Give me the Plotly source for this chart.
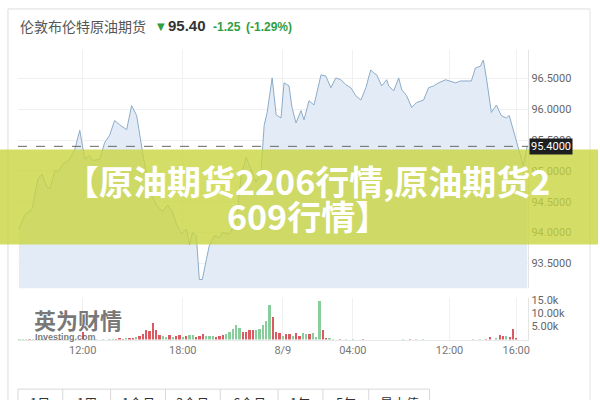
import plotly.graph_objects as go

# ---------------- data ----------------
# session hours (12 = 12:00 day 1, 24 = 8/9 00:00, 28 = 04:00, 34 = 12:00 day 2, 38 = 16:00)
price_t = [8.17, 8.53, 8.95, 9.01, 9.31, 9.55, 9.85, 10.03, 10.33, 10.51, 10.80, 11.22, 11.52, 11.82,
           12.12, 12.36, 12.60, 13.02, 13.31, 13.61, 13.91, 14.21, 14.63, 14.93, 15.23, 15.41, 15.59,
           15.83, 16.12, 16.42, 16.78, 17.08, 17.38, 17.62, 17.92, 18.22, 18.40, 18.58, 18.81, 18.99,
           19.17, 19.41, 19.59, 19.89, 20.19, 20.37, 20.79, 21.21, 21.50, 21.80, 22.10, 22.40, 22.70,
           22.88, 23.06, 23.36, 23.60, 23.89, 24.07, 24.37, 24.55, 24.79, 25.09, 25.27, 25.57, 25.87,
           26.29, 26.58, 26.88, 27.18, 27.48, 27.78, 28.08, 28.38, 28.68, 28.98, 29.27, 29.45, 29.63,
           29.93, 30.23, 30.35, 30.65, 30.95, 31.13, 31.43, 31.73, 32.02, 32.44, 32.74, 33.04, 33.34,
           33.76, 34.06, 34.36, 34.65, 35.01, 35.31, 35.55, 35.85, 36.03, 36.21, 36.51, 36.81, 37.10,
           37.40, 37.58, 37.82, 38.12, 38.42, 38.66]
price_v = [94.06, 94.29, 94.38, 94.45, 94.87, 94.95, 94.74, 94.71, 95.01, 94.98, 95.11, 95.19, 95.35, 95.66,
           95.19, 95.25, 95.17, 95.19, 95.46, 95.58, 95.82, 95.75, 95.67, 96.06, 95.90, 95.58, 95.30,
           94.93, 94.61, 94.45, 94.34, 94.45, 94.34, 94.14, 93.98, 94.06, 93.80, 94.00, 93.95, 93.24,
           93.24, 93.56, 93.79, 93.95, 93.92, 94.00, 93.98, 94.18, 94.93, 95.22, 95.03, 94.82, 95.03,
           95.74, 95.95, 96.51, 95.91, 95.86, 96.43, 96.38, 96.03, 95.78, 95.98, 95.83, 96.14, 96.07,
           96.56, 96.54, 96.35, 96.51, 96.48, 96.40, 96.35, 96.22, 96.15, 96.35, 96.64, 96.59, 96.56,
           96.38, 96.48, 96.38, 96.30, 96.51, 96.32, 96.22, 96.03, 96.11, 96.15, 96.35, 96.38, 96.43,
           96.48, 96.46, 96.43, 96.46, 96.46, 96.46, 96.67, 96.70, 96.80, 96.51, 95.95, 96.07, 95.90,
           95.86, 95.90, 95.66, 95.38, 95.09, 95.40]

vol_t = [8.2, 8.4, 8.6, 8.8, 9.0, 9.2, 9.4, 9.6, 9.8, 10.2, 10.6, 11.0, 11.4, 12.0, 12.4, 12.8, 13.2, 13.6,
         13.8, 14.0, 14.2, 14.4, 14.6, 14.8, 15.0, 15.2, 15.4, 15.6, 15.8, 16.0, 16.2, 16.4, 16.6, 16.8,
         17.0, 17.2, 17.4, 17.6, 17.8, 18.0, 18.2, 18.4, 18.6, 18.8, 19.0, 19.2, 19.4, 19.6, 19.8, 20.0,
         20.2, 20.4, 20.6, 20.8, 21.0, 21.2, 21.4, 21.6, 21.8, 22.0, 22.2, 22.4, 22.6, 22.8, 23.0, 23.2,
         23.4, 23.6, 23.8, 24.0, 24.2, 24.4, 24.6, 24.8, 25.0, 25.2, 25.4, 25.6, 25.8, 26.0, 26.2, 26.4,
         26.6, 26.8, 27.0, 27.4, 27.8, 28.2, 28.8, 31.2, 31.6, 32.0, 32.4, 35.4, 35.8, 36.2, 36.4, 36.8,
         37.0, 37.2, 37.4, 37.6, 37.8, 38.0]
vol_k = [0.3, 0.2, 0.3, 0.2, 0.3, 0.2, 0.3, 0.2, 0.2, 0.3, 0.2, 0.3, 0.2, 3.0, 0.3, 0.2, 0.3, 0.2,
         0.4, 0.3, 0.5, 0.3, 0.5, 0.6, 0.5, 1.0, 1.5, 2.2, 3.5, 3.2, 6.4, 3.5, 1.9, 1.3,
         1.0, 1.7, 1.0, 1.3, 1.9, 1.0, 1.3, 1.9, 1.6, 1.0, 1.4, 2.2, 1.2, 1.5, 1.3, 1.0,
         1.4, 1.8, 2.2, 3.0, 4.0, 5.5, 4.5, 3.0, 3.0, 3.5, 3.5, 3.5, 4.0, 5.5, 7.0, 13.5,
         8.5, 3.0, 2.5, 1.5, 2.0, 2.2, 1.5, 2.5, 1.2, 2.5, 2.0, 2.0, 2.5, 1.0, 15.0, 3.5,
         0.8, 0.5, 0.3, 0.2, 0.2, 0.2, 0.2, 0.3, 0.2, 0.3, 0.2, 0.2, 0.3, 0.3, 1.0, 0.8,
         1.7, 1.3, 1.3, 1.0, 4.2, 0.7]
vol_dir = ["u", "u", "u", "d", "u", "u", "u", "d", "u", "u", "d", "u", "u", "d", "u", "u", "u", "u",
           "u", "d", "d", "d", "u", "d", "d", "u", "d", "d", "d", "d", "d", "d", "d", "u",
           "u", "d", "u", "d", "d", "u", "d", "u", "u", "d", "d", "d", "u", "u", "u", "d",
           "d", "d", "u", "u", "u", "u", "u", "d", "d", "d", "d", "u", "u", "u", "u", "u",
           "d", "d", "d", "u", "d", "d", "u", "d", "d", "u", "u", "d", "u", "u", "u", "d",
           "d", "u", "u", "d", "u", "u", "d", "u", "d", "u", "u", "u", "u", "d", "d", "u",
           "d", "d", "u", "d", "d", "d"]

x_tickvals = [12, 18, 24, 28.2, 34, 38]
x_ticktext = ["12:00", "18:00", "8/9", "04:00", "12:00", "16:00"]
price_ticks = [93.5, 94.0, 94.5, 95.0, 95.5, 96.0, 96.5]
vol_ticks = [5, 10, 15]
vol_ticktext = ["5.00k", "10.00k", "15.0k"]
last_price = 95.40
header_name = "伦敦布伦特原油期货"
header_price = "95.40"
header_change = "-1.25"
header_pct = "(-1.29%)"
banner_lines = ["【原油期货2206行情,原油期货2", "609行情】"]
buttons = ["1日", "1周", "1个月", "3个月", "6个月", "1年", "5年", "最大值"]

# ---------------- figure ----------------
W, H = 600, 400
def px(x):
    return x / W
def py(y):
    return 1 - y / H

GREEN = "#2f9e44"
fig = go.Figure()

fig.add_trace(go.Scatter(x=price_t, y=price_v, mode="lines",
                         line=dict(color="#8dabc8", width=1),
                         fill="tozeroy", fillcolor="#e3ecf6",
                         xaxis="x", yaxis="y", hoverinfo="skip", showlegend=False))

bar_colors = ["rgba(125,200,145,0.9)" if d == "u" else "rgba(214,72,80,0.9)" for d in vol_dir]
fig.add_trace(go.Bar(x=vol_t, y=vol_k, marker=dict(color=bar_colors, line=dict(width=0)),
                     width=0.13, xaxis="x2", yaxis="y2", hoverinfo="skip", showlegend=False))

xr = [8.11, 38.72]
grid_c = "#f0f0f0"
fig.update_layout(
    width=W, height=H, margin=dict(l=0, r=0, t=0, b=0),
    paper_bgcolor="white", plot_bgcolor="white",
    font=dict(family="Roboto, Liberation Sans, sans-serif", color="#666", size=11),
    bargap=0,
    xaxis=dict(domain=[px(18), px(530)], range=xr, tickvals=x_tickvals, showticklabels=False,
               showgrid=True, gridcolor=grid_c, zeroline=False, showline=False, anchor="y"),
    yaxis=dict(domain=[py(287), py(46)], range=[93.1, 96.97], side="right", tickvals=price_ticks,
               ticktext=[f"{v:.4f}" for v in price_ticks], showgrid=True, gridcolor=grid_c,
               zeroline=False, showline=True, linecolor="#e4e4e4", ticks="", anchor="x",
               tickfont=dict(size=11, color="#666")),
    xaxis2=dict(domain=[px(18), px(530)], range=xr, matches="x", tickvals=x_tickvals,
                ticktext=x_ticktext, showgrid=True, gridcolor=grid_c, zeroline=False,
                showline=True, linecolor="#e8e8e8", ticks="", anchor="y2",
                tickfont=dict(size=11, color="#777")),
    yaxis2=dict(domain=[py(339), py(297)], range=[0, 16], side="right", tickvals=vol_ticks,
                ticktext=vol_ticktext, showgrid=False, zeroline=False, showline=True,
                linecolor="#e4e4e4", ticks="", anchor="x2", tickfont=dict(size=11, color="#666")),
)

shapes = []
# page frame lines
shapes.append(dict(type="line", xref="paper", yref="paper", x0=px(8), x1=px(8), y0=0, y1=py(5),
                   line=dict(color="#dddddd", width=1)))
shapes.append(dict(type="line", xref="paper", yref="paper", x0=px(592), x1=px(592), y0=0, y1=py(5),
                   line=dict(color="#e2e2e2", width=1)))
shapes.append(dict(type="line", xref="paper", yref="paper", x0=px(8), x1=px(592), y0=py(5), y1=py(5),
                   line=dict(color="#dddddd", width=1)))
# current price dashed line
shapes.append(dict(type="line", xref="x", yref="y", x0=xr[0], x1=xr[1], y0=last_price, y1=last_price,
                   line=dict(color="#666", width=1, dash="dash")))
# range buttons (cut off at bottom)
btn_edges = [18, 63, 111, 166, 221, 279, 324, 370, 431]
shapes.append(dict(type="rect", xref="paper", yref="paper", x0=px(btn_edges[0]), x1=px(btn_edges[-1]),
                   y0=py(410), y1=py(389), line=dict(color="#d8d8d8", width=1), fillcolor="white"))
for e in btn_edges[1:-1]:
    shapes.append(dict(type="line", xref="paper", yref="paper", x0=px(e), x1=px(e), y0=py(410), y1=py(389),
                       line=dict(color="#d8d8d8", width=1)))
# banner overlay
shapes.append(dict(type="rect", xref="paper", yref="paper", x0=0, x1=1, y0=py(243), y1=py(147),
                   line=dict(width=0), fillcolor="rgba(200,213,60,0.78)", layer="above"))
fig.update_layout(shapes=shapes)

ann = []
# header
ann.append(dict(x=px(18), y=py(22), xref="paper", yref="paper", text=header_name, showarrow=False,
                xanchor="left", yanchor="middle",
                font=dict(family="Noto Sans CJK SC", size=14, color="#555")))
ann.append(dict(x=px(156), y=py(23), xref="paper", yref="paper", text="▼", showarrow=False,
                xanchor="left", yanchor="middle", font=dict(family="DejaVu Sans", size=10, color=GREEN)))
ann.append(dict(x=px(167), y=py(22), xref="paper", yref="paper", text=f"<b>{header_price}</b>",
                showarrow=False, xanchor="left", yanchor="middle",
                font=dict(family="Liberation Sans", size=15, color="#333")))
ann.append(dict(x=px(212), y=py(23), xref="paper", yref="paper", text=f"<b>{header_change}</b>",
                showarrow=False, xanchor="left", yanchor="middle",
                font=dict(family="Liberation Sans", size=12, color=GREEN)))
ann.append(dict(x=px(245), y=py(23), xref="paper", yref="paper", text=f"<b>{header_pct}</b>",
                showarrow=False, xanchor="left", yanchor="middle",
                font=dict(family="Liberation Sans", size=12, color=GREEN)))
# last price tag
ann.append(dict(x=px(531), y=last_price, xref="paper", yref="y", text=f"{last_price:.4f}",
                showarrow=False, xanchor="left", yanchor="middle", bgcolor="#1e1e1e",
                borderpad=1, font=dict(family="Roboto", size=11, color="white")))
# watermark
ann.append(dict(x=px(32), y=py(318), xref="paper", yref="paper", text="<b>英为财情</b>", showarrow=False,
                xanchor="left", yanchor="middle",
                font=dict(family="Noto Sans CJK SC", size=22, color="rgba(95,95,95,0.85)")))
ann.append(dict(x=px(33), y=py(336), xref="paper", yref="paper", text="<b>Investing.com</b>",
                showarrow=False, xanchor="left", yanchor="middle",
                font=dict(family="Liberation Sans", size=9, color="rgba(95,95,95,0.85)")))
# buttons text
for i, b in enumerate(buttons):
    cx = (btn_edges[i] + btn_edges[i + 1]) / 2
    ann.append(dict(x=px(cx), y=py(403), xref="paper", yref="paper", text=b, showarrow=False,
                    xanchor="center", yanchor="middle",
                    font=dict(family="Noto Sans CJK SC", size=13, color="#333")))
# banner text
ann.append(dict(x=px(309), y=py(178), xref="paper", yref="paper", text=f"<b>{banner_lines[0]}</b>",
                showarrow=False, xanchor="center", yanchor="middle",
                font=dict(family="Noto Sans CJK SC", size=34, color="white")))
ann.append(dict(x=px(309), y=py(214), xref="paper", yref="paper", text=f"<b>{banner_lines[1]}</b>",
                showarrow=False, xanchor="center", yanchor="middle",
                font=dict(family="Noto Sans CJK SC", size=34, color="white")))
fig.update_layout(annotations=ann)

fig.write_html("out.html", config={"displayModeBar": False},
               post_script="document.body.style.margin='0px';")
